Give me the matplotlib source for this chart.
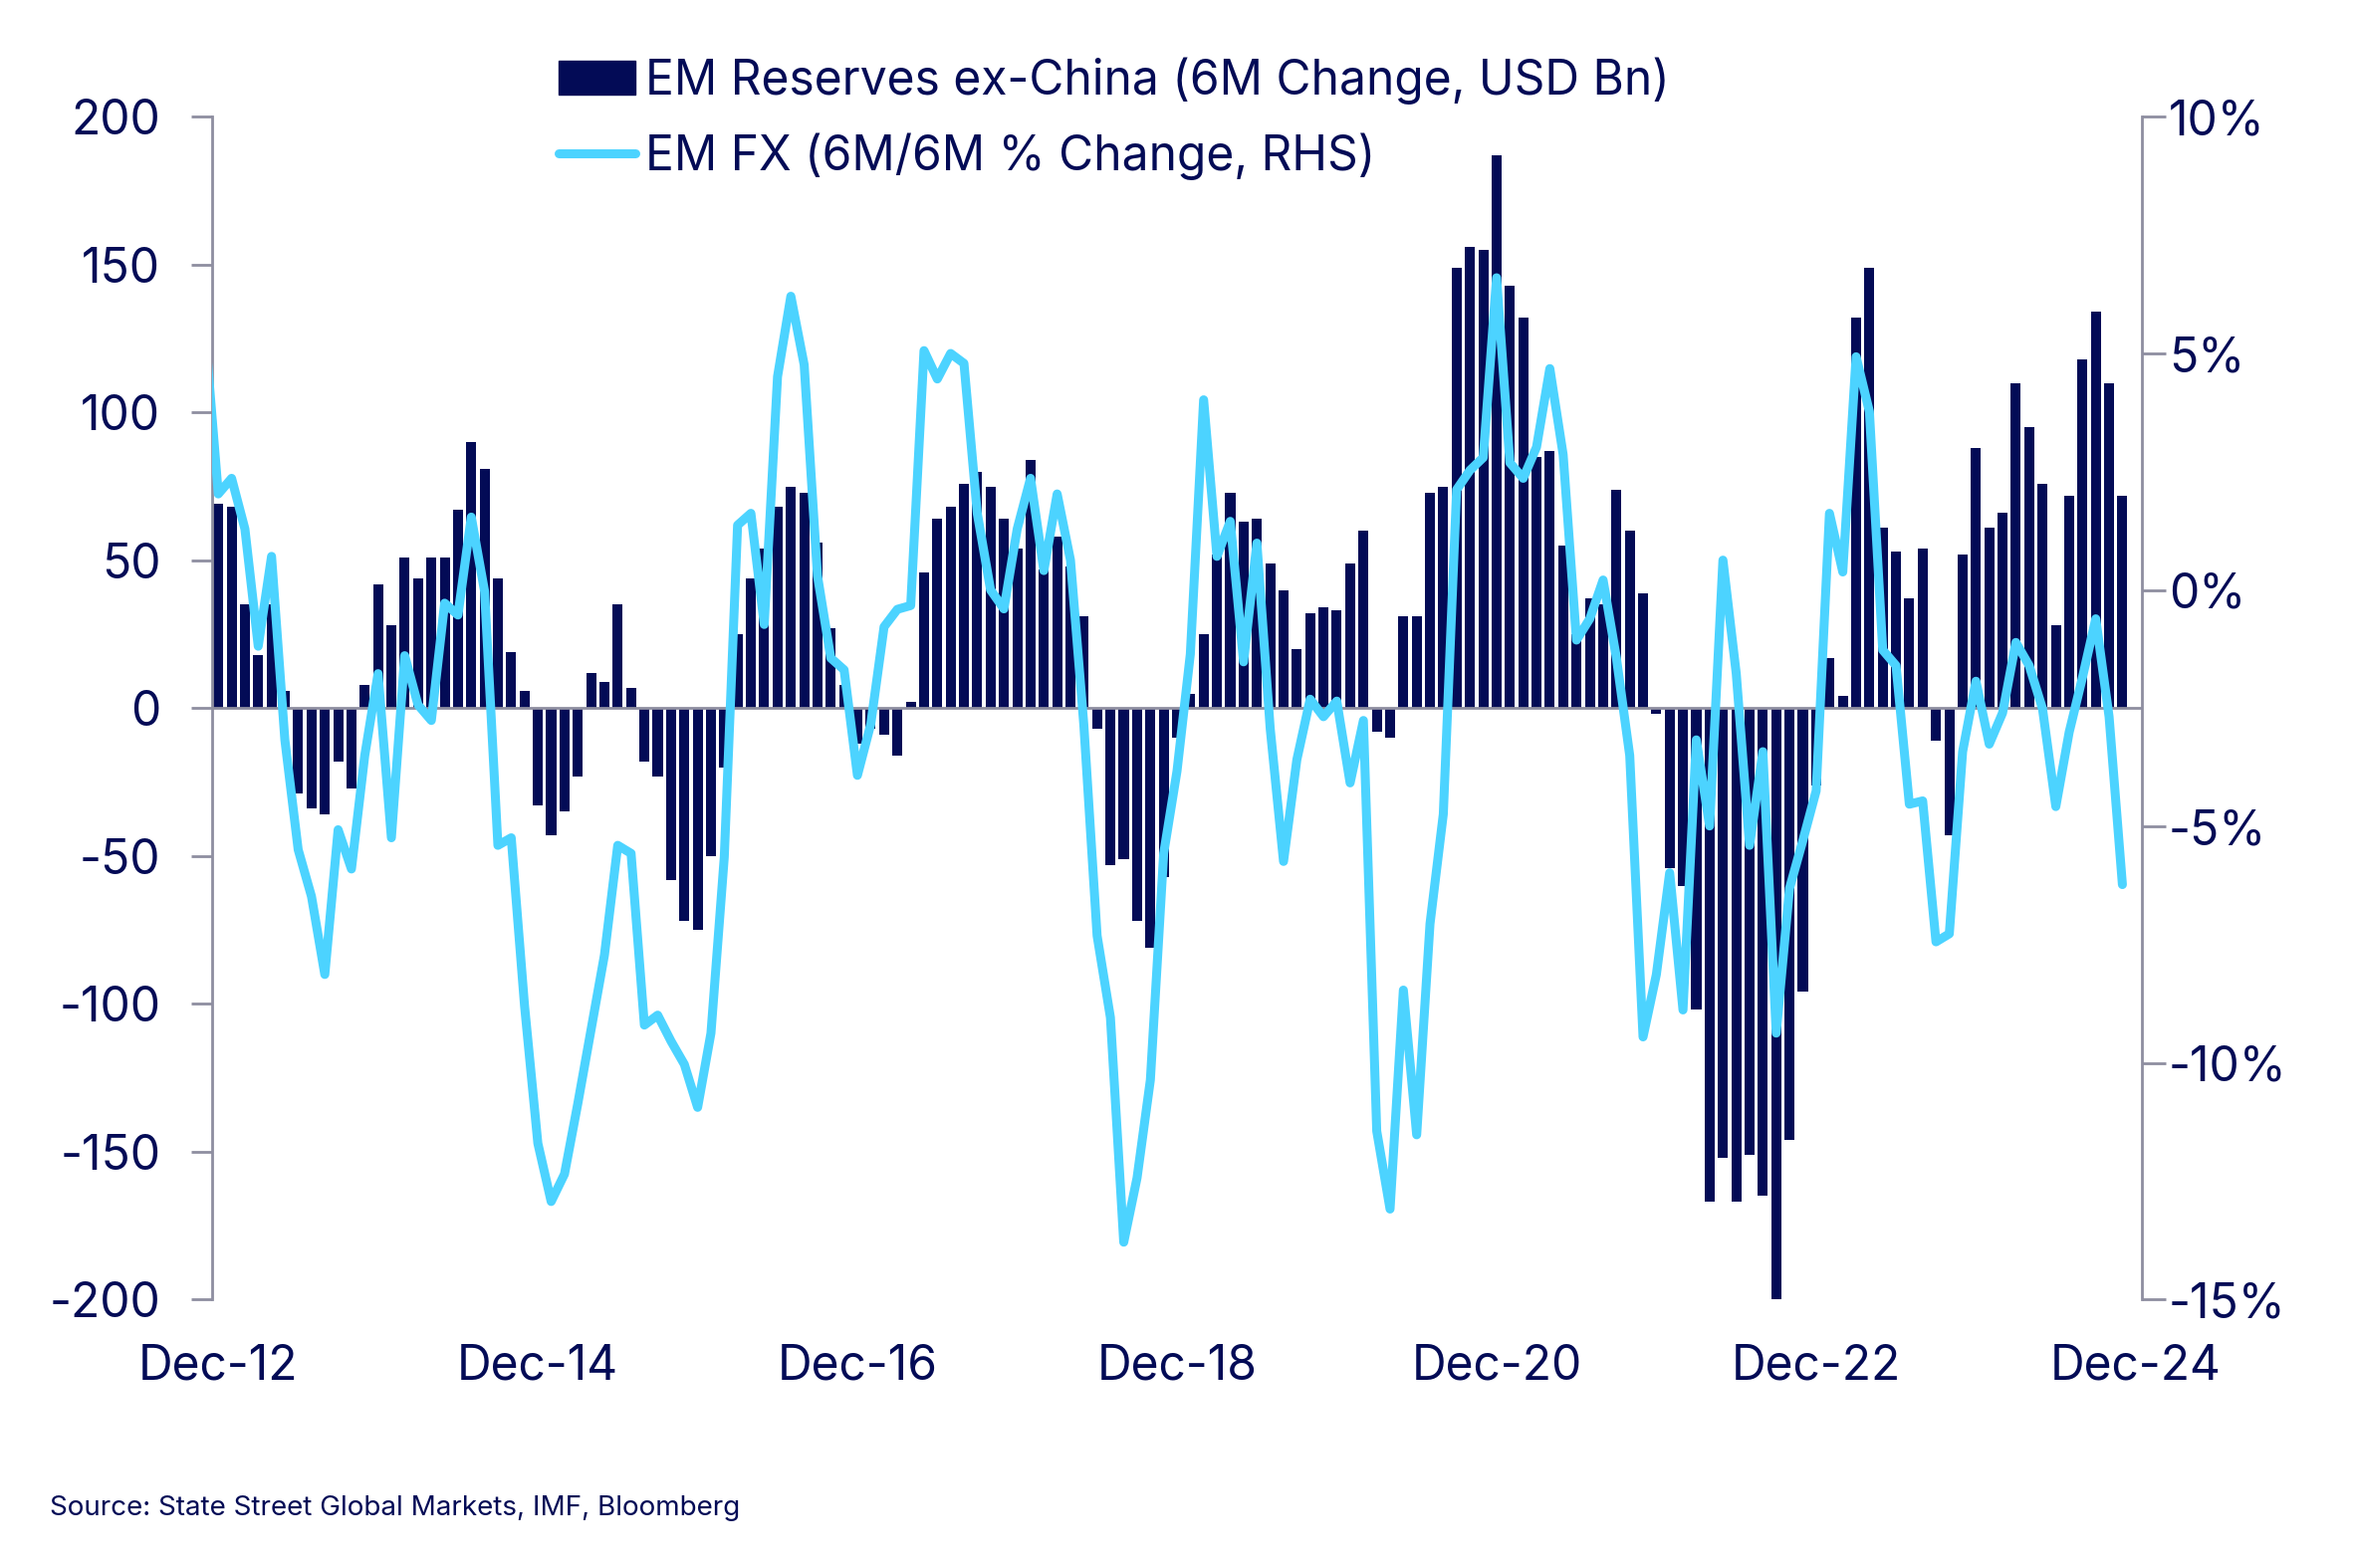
import numpy as np
import pandas as pd
import matplotlib
matplotlib.use("Agg")
import matplotlib.pyplot as plt
from matplotlib.lines import Line2D
from matplotlib.patches import Patch
from matplotlib.ticker import FuncFormatter

# colours
NAVY = '#030b56'
CYAN = '#4cd3ff'
GREY = '#8e8ea0'

# monthly categories on the x axis, Dec-12 .. Dec-24
months = pd.date_range('2012-12-01', '2024-12-01', freq='MS')

# EM reserves ex-China, 6M change (USD bn), Dec-12 .. Nov-24
reserves = [
    69, 68, 35, 18, 35, 6, -29, -34, -36, -18, -27, 8,
    42, 28, 51, 44, 51, 51, 67, 90, 81, 44, 19, 6,
    -33, -43, -35, -23, 12, 9, 35, 7, -18, -23, -58, -72,
    -75, -50, -20, 25, 44, 54, 68, 75, 73, 56, 27, 8,
    -12, -7, -9, -16, 2, 46, 64, 68, 76, 80, 75, 64,
    54, 84, 47, 58, 48, 31, -7, -53, -51, -72, -81, -57,
    -10, 5, 25, 52, 73, 63, 64, 49, 40, 20, 32, 34,
    33, 49, 60, -8, -10, 31, 31, 73, 75, 149, 156, 155,
    187, 143, 132, 85, 87, 55, 25, 37, 35, 74, 60, 39,
    -2, -54, -60, -102, -167, -152, -167, -151, -165, -201, -146, -96,
    -26, 17, 4, 132, 149, 61, 53, 37, 54, -11, -43, 52,
    88, 61, 66, 110, 95, 76, 28, 72, 118, 134, 110, 72,
]

# EM FX, 6M/6M % change (RHS), Nov-12 .. Nov-24 (first point sits left of the axis)
em_fx = [
    5.5,
    2.03, 2.36, 1.29, -1.19, 0.71, -3.17, -5.49, -6.48, -8.13, -5.07, -5.9, -3.5,
    -1.77, -5.24, -1.39, -2.43, -2.76, -0.28, -0.53, 1.54, -0.03, -5.4, -5.24, -8.79,
    -11.7, -12.93, -12.35, -10.86, -9.29, -7.72, -5.4, -5.57, -9.2, -8.99, -9.54, -10.03,
    -10.94, -9.37, -5.65, 1.37, 1.62, -0.73, 4.51, 6.21, 4.76, 0.3, -1.44, -1.69,
    -3.92, -2.84, -0.78, -0.41, -0.33, 5.06, 4.46, 5.0, 4.79, 1.62, 0.0, -0.4,
    1.29, 2.36, 0.41, 2.03, 0.63, -2.84, -7.31, -9.04, -13.79, -12.43, -10.36, -5.57,
    -3.83, -1.36, 4.02, 0.71, 1.45, -1.52, 0.99, -2.93, -5.74, -3.59, -2.31, -2.68,
    -2.35, -4.08, -2.76, -11.44, -13.09, -8.46, -11.52, -7.06, -4.74, 2.12, 2.53, 2.8,
    6.6, 2.69, 2.36, 3.02, 4.68, 2.86, -1.06, -0.61, 0.21, -1.44, -3.5, -9.45,
    -8.13, -5.98, -8.88, -3.17, -4.99, 0.63, -1.77, -5.4, -3.42, -9.37, -6.31, -5.3,
    -4.25, 1.62, 0.38, 4.93, 3.77, -1.27, -1.6, -4.53, -4.46, -7.44, -7.27, -3.42,
    -1.93, -3.26, -2.6, -1.11, -1.6, -2.51, -4.58, -3.01, -1.85, -0.61, -2.68, -6.23,
]

left_ticks = list(range(-200, 201, 50))
right_ticks = list(range(-15, 11, 5))

plt.rcParams['font.family'] = ['Inter', 'DejaVu Sans']
plt.rcParams['axes.unicode_minus'] = False

FS = 34.5

fig = plt.figure(figsize=(23.64, 15.75), dpi=100)
ax = fig.add_axes([0.0899, 0.1713, 0.8202, 0.7541])
ax2 = ax.twinx()

# bars on the left axis
x_bar = np.arange(len(reserves))
ax.bar(x_bar, reserves, width=0.75, color=NAVY, zorder=2)
ax.axhline(0, color=GREY, lw=2, zorder=3)

# line on the right axis, one month earlier start (clipped at the edge)
x_line = np.arange(-1, len(em_fx) - 1)
ax2.plot(x_line, em_fx, color=CYAN, lw=6.5,
         solid_joinstyle='round', solid_capstyle='round')

ax.set_xlim(-0.5, len(months) - 0.5)
ax.set_ylim(-200, 200)
ax2.set_ylim(-15, 10)

ax.set_yticks(left_ticks)
ax2.set_yticks(right_ticks)
ax2.yaxis.set_major_formatter(FuncFormatter(lambda v, p: f'{v:.0f}%'))

tick_idx = list(range(0, len(months), 24))
ax.set_xticks(tick_idx)
ax.set_xticklabels([months[i].strftime('%b-%y') for i in tick_idx])

for s in ['top', 'bottom', 'right']:
    ax.spines[s].set_visible(False)
for s in ['top', 'bottom', 'left']:
    ax2.spines[s].set_visible(False)
ax.spines['left'].set_color(GREY)
ax.spines['left'].set_linewidth(2)
ax2.spines['right'].set_color(GREY)
ax2.spines['right'].set_linewidth(2)

ax.tick_params(axis='y', length=15, width=2, color=GREY, pad=22,
               labelsize=FS, labelcolor=NAVY)
ax.tick_params(axis='x', length=0, pad=32, labelsize=FS, labelcolor=NAVY)
ax2.tick_params(axis='y', length=17, width=2, color=GREY, pad=2,
                labelsize=FS, labelcolor=NAVY)

handles = [
    Patch(color=NAVY, label='EM Reserves ex-China (6M Change, USD Bn)'),
    Line2D([0], [0], color=CYAN, lw=6.5, solid_capstyle='round',
           label='EM FX (6M/6M % Change, RHS)'),
]
fig.legend(handles=handles, loc='upper left', bbox_to_anchor=(0.2375, 0.9635),
           frameon=False, fontsize=FS, handlelength=1.6, handletextpad=0.2,
           labelspacing=0.6, labelcolor=NAVY, borderaxespad=0, borderpad=0)

fig.text(33 / 1568, 1 - 1005 / 1045,
         'Source: State Street Global Markets, IMF, Bloomberg',
         fontsize=20, color=NAVY, va='center', ha='left')

fig.savefig('out.png', dpi=100)
